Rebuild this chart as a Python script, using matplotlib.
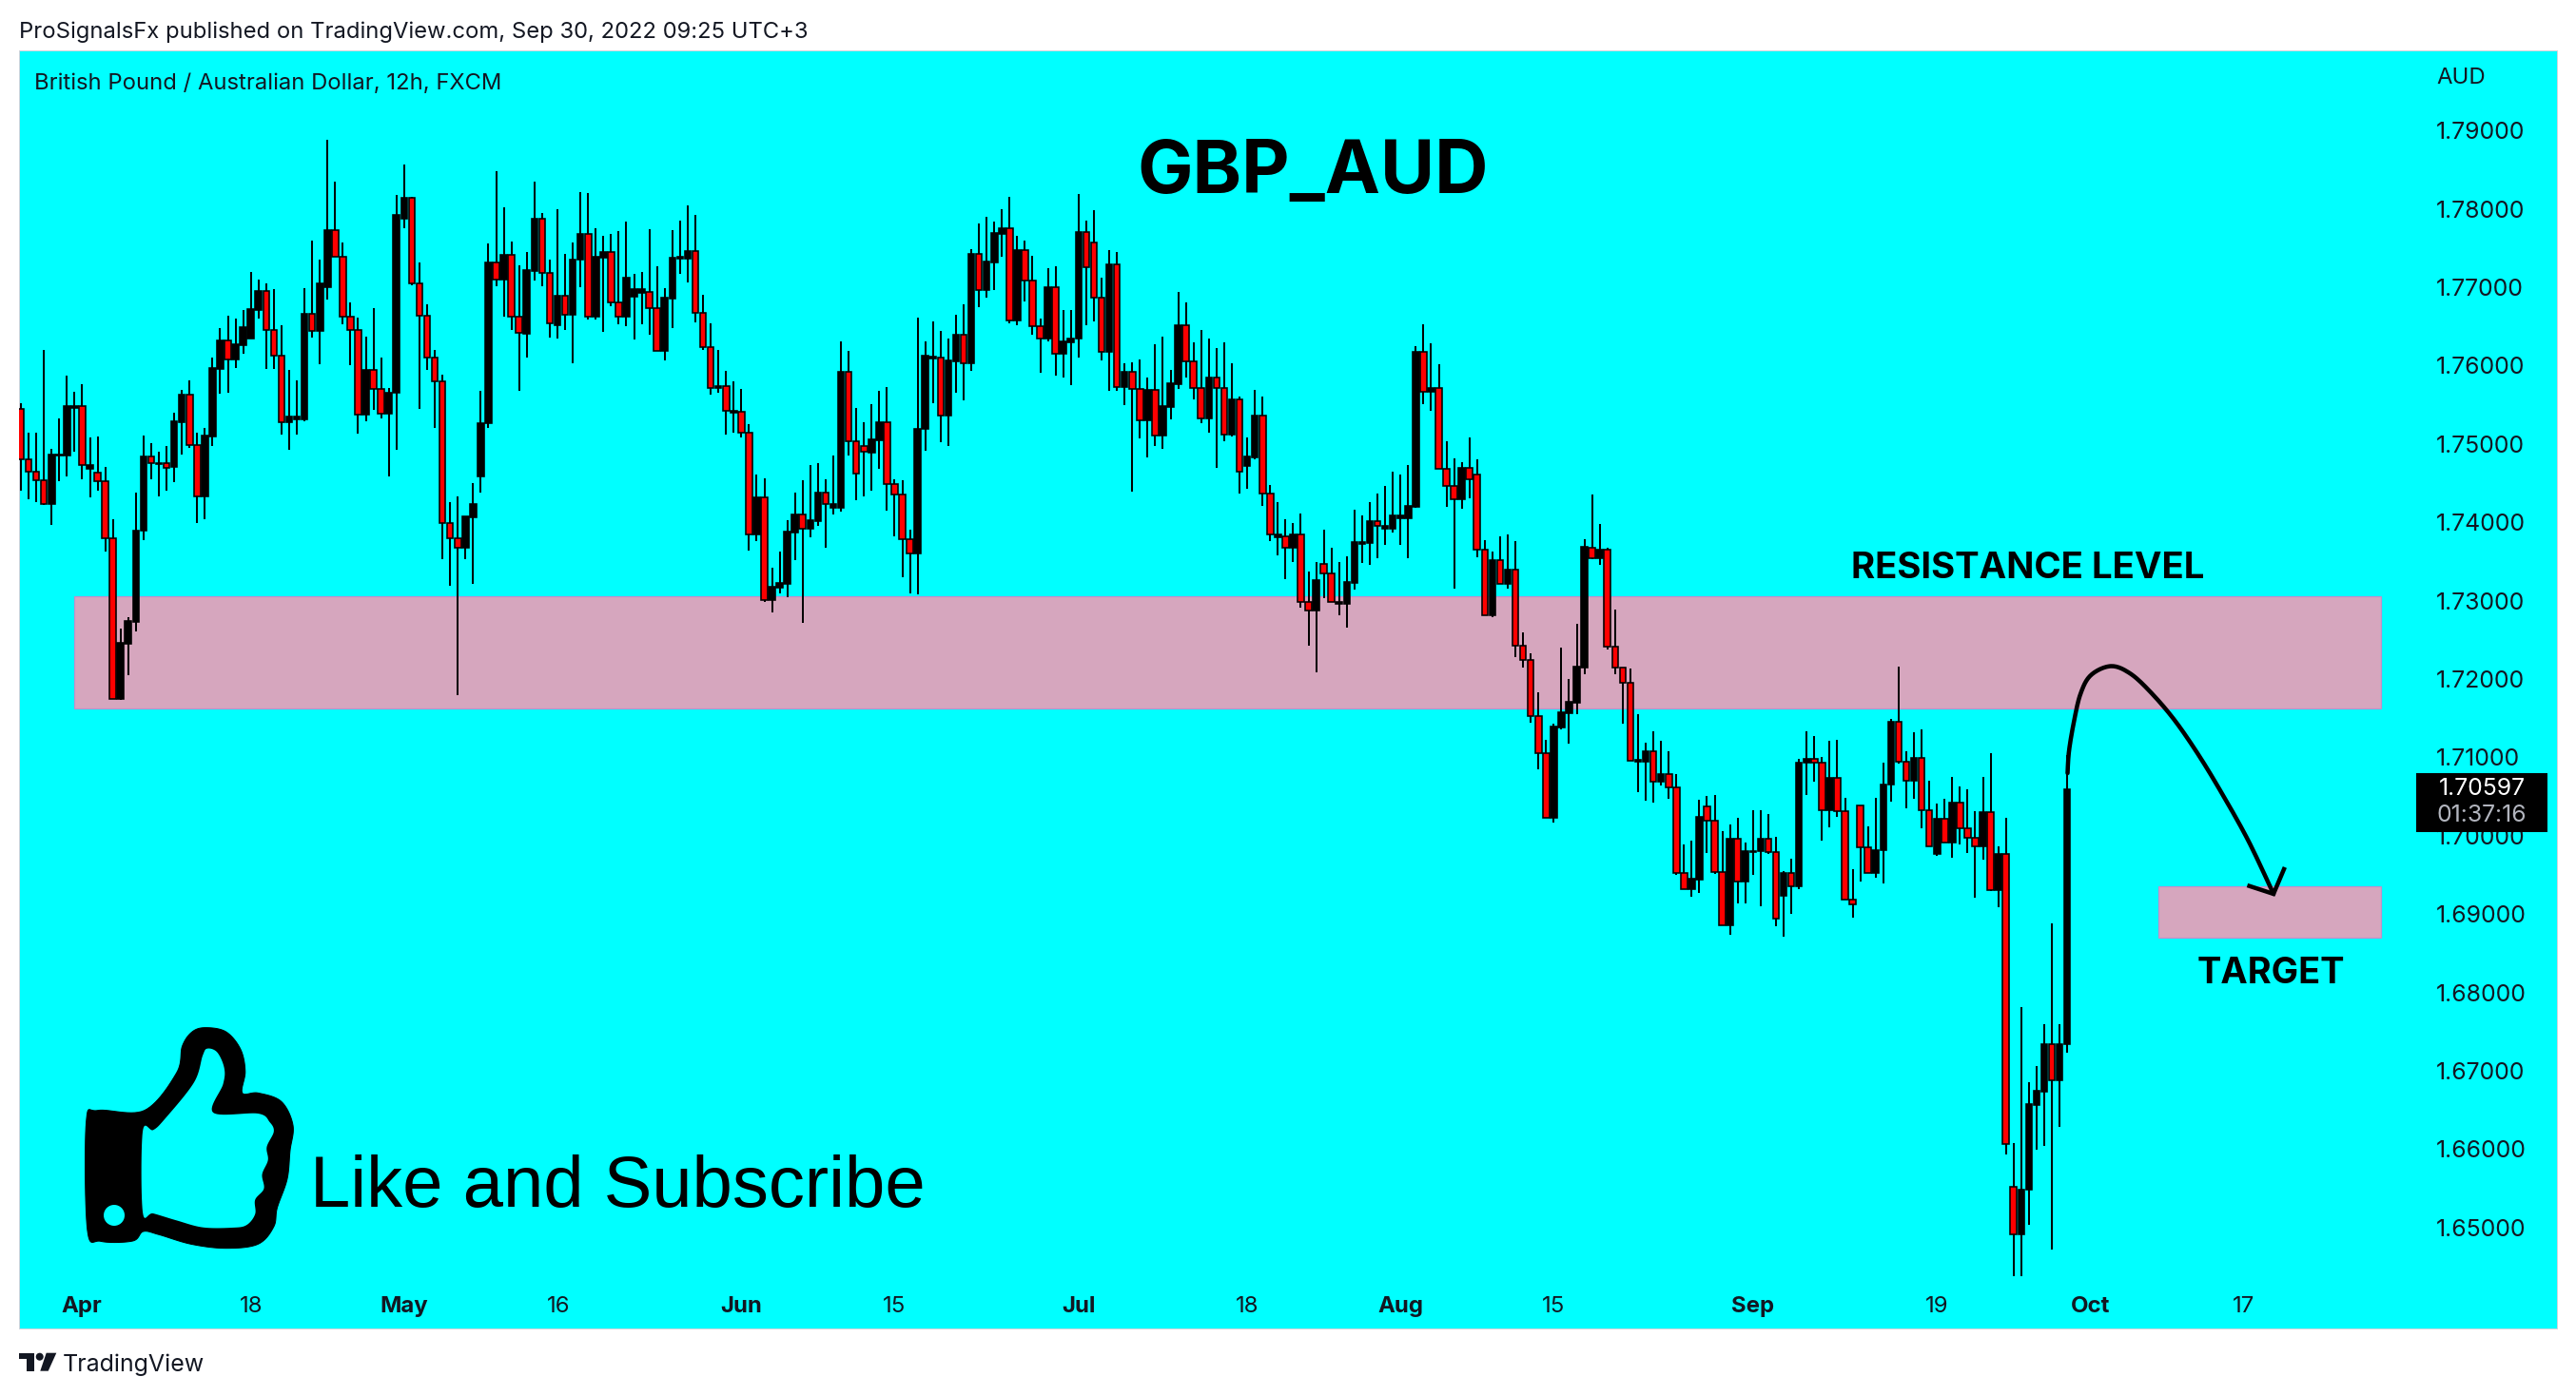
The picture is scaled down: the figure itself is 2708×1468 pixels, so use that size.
import numpy as np
import matplotlib
matplotlib.use("Agg")
import matplotlib.pyplot as plt
from matplotlib.patches import Rectangle, Polygon, Ellipse

W, H, DPI = 2708, 1468, 200
PT = 72 / DPI  # one pixel in points
plt.rcParams['font.family'] = ['Inter', 'DejaVu Sans']

opens = [
    1.7545,1.7480,1.7465,1.7454,1.7424,1.7485,1.7485,1.7546,1.7548,1.7468,
    1.7463,1.7452,1.7380,1.7175,1.7245,1.7273,1.7390,1.7484,1.7474,1.7475,
    1.7471,1.7528,1.7563,1.7499,1.7433,1.7510,1.7596,1.7632,1.7608,1.7626,
    1.7635,1.7671,1.7695,1.7645,1.7613,1.7528,1.7532,1.7532,1.7666,1.7644,
    1.7700,1.7773,1.7739,1.7663,1.7645,1.7537,1.7595,1.7570,1.7539,1.7565,
    1.7787,1.7814,1.7705,1.7664,1.7610,1.7580,1.7399,1.7380,1.7367,1.7407,
    1.7459,1.7526,1.7732,1.7710,1.7741,1.7663,1.7641,1.7721,1.7788,1.7718,
    1.7652,1.7689,1.7665,1.7735,1.7768,1.7662,1.7738,1.7745,1.7681,1.7663,
    1.7688,1.7693,1.7694,1.7674,1.7619,1.7686,1.7736,1.7737,1.7746,1.7667,
    1.7624,1.7571,1.7574,1.7540,1.7541,1.7514,1.7385,1.7432,1.7301,1.7317,
    1.7322,1.7387,1.7410,1.7392,1.7402,1.7438,1.7419,1.7419,1.7592,1.7503,
    1.7498,1.7489,1.7505,1.7528,1.7449,1.7435,1.7378,1.7360,1.7519,1.7609,
    1.7610,1.7536,1.7606,1.7639,1.7603,1.7742,1.7697,1.7732,1.7768,1.7775,
    1.7658,1.7748,1.7708,1.7650,1.7634,1.7700,1.7615,1.7630,1.7634,1.7771,
    1.7757,1.7687,1.7618,1.7729,1.7573,1.7592,1.7570,1.7530,1.7569,1.7511,
    1.7547,1.7576,1.7651,1.7605,1.7572,1.7533,1.7585,1.7571,1.7512,1.7557,
    1.7472,1.7483,1.7536,1.7437,1.7381,1.7382,1.7368,1.7384,1.7298,1.7287,
    1.7347,1.7335,1.7296,1.7296,1.7323,1.7373,1.7374,1.7401,1.7392,1.7392,
    1.7405,1.7405,1.7420,1.7617,1.7567,1.7572,1.7468,1.7447,1.7430,1.7470,
    1.7461,1.7365,1.7282,1.7352,1.7322,1.7340,1.7242,1.7224,1.7153,1.7106,
    1.7023,1.7138,1.7157,1.7170,1.7215,1.7368,1.7354,1.7365,1.7241,1.7215,
    1.7195,1.7095,1.7095,1.7108,1.7069,1.7079,1.7062,1.6953,1.6932,1.6944,
    1.7037,1.7019,1.6954,1.6886,1.6996,1.6942,1.6979,1.6980,1.6996,1.6979,
    1.6924,1.6952,1.6936,1.7093,1.7098,1.7093,1.7033,1.7074,1.7032,1.6918,
    1.7039,1.6985,1.6953,1.6982,1.7065,1.7145,1.7094,1.7070,1.7099,1.7033,
    1.6977,1.7022,1.6991,1.7042,1.7009,1.6997,1.6987,1.7030,1.6931,1.6977,
    1.6552,1.6491,1.6548,1.6657,1.6673,1.6734,1.6688,1.6734,
]
closes = [
    1.7480,1.7465,1.7454,1.7424,1.7487,1.7487,1.7548,1.7548,1.7473,1.7473,
    1.7452,1.7380,1.7175,1.7246,1.7274,1.7390,1.7484,1.7475,1.7476,1.7470,
    1.7529,1.7563,1.7499,1.7433,1.7511,1.7597,1.7632,1.7608,1.7627,1.7649,
    1.7672,1.7695,1.7645,1.7613,1.7528,1.7535,1.7535,1.7666,1.7644,1.7705,
    1.7773,1.7739,1.7663,1.7645,1.7537,1.7595,1.7570,1.7539,1.7565,1.7792,
    1.7814,1.7705,1.7664,1.7610,1.7580,1.7399,1.7380,1.7367,1.7408,1.7424,
    1.7527,1.7732,1.7710,1.7741,1.7663,1.7642,1.7722,1.7788,1.7718,1.7654,
    1.7689,1.7665,1.7735,1.7768,1.7662,1.7739,1.7745,1.7681,1.7663,1.7712,
    1.7698,1.7698,1.7674,1.7619,1.7687,1.7738,1.7739,1.7746,1.7667,1.7624,
    1.7571,1.7574,1.7542,1.7542,1.7514,1.7385,1.7432,1.7301,1.7318,1.7323,
    1.7388,1.7410,1.7392,1.7403,1.7438,1.7423,1.7423,1.7592,1.7503,1.7462,
    1.7490,1.7506,1.7528,1.7449,1.7435,1.7378,1.7360,1.7519,1.7613,1.7612,
    1.7536,1.7607,1.7639,1.7603,1.7742,1.7697,1.7733,1.7769,1.7775,1.7658,
    1.7748,1.7708,1.7650,1.7634,1.7700,1.7615,1.7631,1.7635,1.7771,1.7725,
    1.7687,1.7618,1.7729,1.7573,1.7592,1.7570,1.7530,1.7569,1.7511,1.7548,
    1.7578,1.7651,1.7605,1.7572,1.7533,1.7585,1.7571,1.7512,1.7557,1.7465,
    1.7484,1.7536,1.7437,1.7384,1.7384,1.7368,1.7384,1.7298,1.7287,1.7326,
    1.7335,1.7299,1.7299,1.7324,1.7375,1.7375,1.7402,1.7395,1.7396,1.7409,
    1.7409,1.7421,1.7617,1.7567,1.7572,1.7468,1.7447,1.7430,1.7470,1.7455,
    1.7365,1.7282,1.7352,1.7322,1.7340,1.7242,1.7224,1.7153,1.7106,1.7023,
    1.7139,1.7158,1.7171,1.7216,1.7369,1.7354,1.7365,1.7241,1.7215,1.7195,
    1.7096,1.7097,1.7108,1.7069,1.7079,1.7062,1.6953,1.6932,1.6945,1.7024,
    1.7019,1.6954,1.6886,1.6996,1.6942,1.6981,1.6981,1.6996,1.6979,1.6894,
    1.6952,1.6936,1.7093,1.7098,1.7093,1.7033,1.7074,1.7031,1.6918,1.6913,
    1.6985,1.6953,1.6982,1.7065,1.7145,1.7094,1.7070,1.7099,1.7033,1.6986,
    1.7022,1.6991,1.7042,1.7009,1.6997,1.6987,1.7030,1.6931,1.6977,1.6607,
    1.6491,1.6548,1.6658,1.6674,1.6734,1.6688,1.6734,1.7059,
]
highs = [
    1.7552,1.7514,1.7514,1.7620,1.7494,1.7533,1.7587,1.7567,1.7576,1.7508,
    1.7509,1.7471,1.7404,1.7265,1.7279,1.7438,1.7511,1.7501,1.7490,1.7497,
    1.7540,1.7569,1.7581,1.7514,1.7521,1.7610,1.7648,1.7664,1.7660,1.7671,
    1.7719,1.7710,1.7705,1.7698,1.7651,1.7594,1.7581,1.7699,1.7760,1.7735,
    1.7888,1.7835,1.7757,1.7681,1.7661,1.7637,1.7673,1.7610,1.7571,1.7818,
    1.7857,1.7815,1.7732,1.7678,1.7620,1.7589,1.7426,1.7433,1.7408,1.7450,
    1.7568,1.7756,1.7848,1.7802,1.7758,1.7728,1.7745,1.7835,1.7795,1.7735,
    1.7800,1.7743,1.7757,1.7822,1.7820,1.7775,1.7766,1.7768,1.7772,1.7784,
    1.7717,1.7720,1.7774,1.7727,1.7699,1.7773,1.7785,1.7805,1.7792,1.7690,
    1.7654,1.7620,1.7593,1.7580,1.7570,1.7525,1.7461,1.7456,1.7342,1.7363,
    1.7403,1.7438,1.7454,1.7473,1.7476,1.7455,1.7485,1.7631,1.7619,1.7546,
    1.7528,1.7551,1.7568,1.7573,1.7455,1.7454,1.7391,1.7661,1.7631,1.7657,
    1.7644,1.7635,1.7665,1.7678,1.7749,1.7781,1.7790,1.7784,1.7800,1.7815,
    1.7766,1.7760,1.7740,1.7660,1.7724,1.7727,1.7671,1.7671,1.7819,1.7785,
    1.7798,1.7712,1.7748,1.7745,1.7603,1.7604,1.7608,1.7585,1.7627,1.7637,
    1.7595,1.7694,1.7681,1.7630,1.7645,1.7635,1.7622,1.7630,1.7603,1.7560,
    1.7508,1.7569,1.7560,1.7448,1.7426,1.7404,1.7399,1.7411,1.7337,1.7349,
    1.7391,1.7368,1.7349,1.7357,1.7416,1.7409,1.7426,1.7437,1.7446,1.7465,
    1.7461,1.7473,1.7625,1.7653,1.7629,1.7602,1.7503,1.7482,1.7477,1.7508,
    1.7481,1.7377,1.7363,1.7382,1.7384,1.7376,1.7260,1.7233,1.7183,1.7122,
    1.7143,1.7240,1.7200,1.7270,1.7379,1.7435,1.7398,1.7367,1.7289,1.7215,
    1.7213,1.7155,1.7119,1.7133,1.7121,1.7108,1.7079,1.6989,1.6994,1.7046,
    1.7051,1.7052,1.7006,1.7015,1.7023,1.6991,1.7033,1.7033,1.7028,1.6999,
    1.6955,1.6971,1.7098,1.7133,1.7127,1.7101,1.7121,1.7122,1.7048,1.6957,
    1.7039,1.7012,1.7048,1.7093,1.7149,1.7216,1.7108,1.7132,1.7136,1.7070,
    1.7041,1.7047,1.7075,1.7063,1.7059,1.7032,1.7075,1.7105,1.6986,1.7023,
    1.6608,1.6781,1.6685,1.6706,1.6760,1.6888,1.6759,1.7103,
]
lows = [
    1.7441,1.7430,1.7426,1.7422,1.7397,1.7452,1.7459,1.7490,1.7455,1.7432,
    1.7441,1.7363,1.7175,1.7174,1.7205,1.7261,1.7377,1.7455,1.7433,1.7441,
    1.7451,1.7487,1.7495,1.7399,1.7404,1.7497,1.7564,1.7565,1.7597,1.7615,
    1.7635,1.7660,1.7596,1.7596,1.7512,1.7492,1.7512,1.7529,1.7636,1.7602,
    1.7684,1.7739,1.7653,1.7601,1.7513,1.7529,1.7544,1.7533,1.7459,1.7493,
    1.7775,1.7703,1.7545,1.7595,1.7521,1.7353,1.7319,1.7179,1.7353,1.7322,
    1.7438,1.7521,1.7701,1.7662,1.7646,1.7568,1.7610,1.7709,1.7701,1.7636,
    1.7635,1.7646,1.7603,1.7700,1.7659,1.7659,1.7643,1.7676,1.7653,1.7650,
    1.7633,1.7653,1.7640,1.7619,1.7607,1.7648,1.7717,1.7706,1.7655,1.7620,
    1.7563,1.7565,1.7512,1.7514,1.7508,1.7364,1.7376,1.7298,1.7285,1.7309,
    1.7305,1.7352,1.7272,1.7381,1.7396,1.7368,1.7410,1.7414,1.7485,1.7428,
    1.7433,1.7441,1.7468,1.7415,1.7382,1.7330,1.7309,1.7308,1.7491,1.7552,
    1.7502,1.7498,1.7566,1.7556,1.7593,1.7675,1.7687,1.7696,1.7739,1.7654,
    1.7651,1.7682,1.7640,1.7591,1.7631,1.7587,1.7585,1.7575,1.7610,1.7651,
    1.7657,1.7607,1.7568,1.7568,1.7550,1.7439,1.7507,1.7483,1.7498,1.7494,
    1.7531,1.7570,1.7585,1.7557,1.7527,1.7514,1.7469,1.7504,1.7509,1.7437,
    1.7443,1.7481,1.7421,1.7376,1.7358,1.7328,1.7349,1.7291,1.7243,1.7208,
    1.7303,1.7299,1.7281,1.7266,1.7314,1.7348,1.7346,1.7354,1.7371,1.7387,
    1.7371,1.7354,1.7419,1.7551,1.7542,1.7468,1.7420,1.7316,1.7417,1.7431,
    1.7356,1.7282,1.7279,1.7322,1.7315,1.7228,1.7215,1.7144,1.7085,1.7023,
    1.7017,1.7136,1.7118,1.7155,1.7206,1.7353,1.7346,1.7238,1.7206,1.7143,
    1.7096,1.7056,1.7045,1.7042,1.7064,1.7047,1.6950,1.6932,1.6922,1.6927,
    1.6978,1.6951,1.6886,1.6874,1.6914,1.6914,1.6950,1.6910,1.6977,1.6885,
    1.6871,1.6900,1.6932,1.7052,1.7069,1.6994,1.7011,1.7024,1.6918,1.6896,
    1.6942,1.6953,1.6946,1.6939,1.7044,1.7092,1.7035,1.7047,1.7009,1.6986,
    1.6974,1.6991,1.6972,1.6989,1.6978,1.6921,1.6969,1.6930,1.6909,1.6593,
    1.6438,1.6438,1.6503,1.6599,1.6604,1.6472,1.6629,1.6723,
]

price_ticks = [1.65, 1.66, 1.67, 1.68, 1.69, 1.70, 1.71, 1.72, 1.73, 1.74,
               1.75, 1.76, 1.77, 1.78, 1.79]
time_bars = [7.9, 30, 50, 70.1, 94, 114, 138, 160, 180, 200, 226, 250, 270, 290]
time_labels = ['Apr', '18', 'May', '16', 'Jun', '15', 'Jul', '18', 'Aug', '15',
               'Sep', '19', 'Oct', '17']
month_labels = {'Apr', 'May', 'Jun', 'Jul', 'Aug', 'Sep', 'Oct'}
resistance_zone = (1.7162, 1.7306)
target_zone = (1.6870, 1.6936)
last_price = '1.70597'
countdown = '01:37:16'

CYAN = '#00FFFF'
INK = '#131722'
ZONE = '#D6A6BE'
ZONE_EDGE = '#C08FCB'


def smooth(points, closed=False, n=14):
    """Catmull-Rom through hand-drawn annotation points."""
    p = np.asarray(points, float)
    if closed:
        p = np.vstack([p[-1], p, p[0], p[1]])
    else:
        p = np.vstack([p[0], p, p[-1]])
    out = []
    for i in range(1, len(p) - 2):
        for t in np.linspace(0, 1, n, endpoint=False):
            out.append(0.5 * (2 * p[i] + (p[i + 1] - p[i - 1]) * t
                       + (2 * p[i - 1] - 5 * p[i] + 4 * p[i + 1] - p[i + 2]) * t ** 2
                       + (3 * p[i] - p[i - 1] - 3 * p[i + 1] + p[i + 2]) * t ** 3))
    if not closed:
        out.append(p[-1])
    return np.array(out)


fig = plt.figure(figsize=(W / DPI, H / DPI), dpi=DPI, facecolor='white')
left, right, top, bottom = 20, 2688, 53, 1397
ax = fig.add_axes([left / W, 1 - bottom / H, (right - left) / W, (bottom - top) / H])
ax.set_facecolor(CYAN)
ax.set_xlim(-0.248, 330.9)
ax.set_ylim(1.63712, 1.80023)
for s in ax.spines.values():
    s.set_color('#D1D4DC')
    s.set_linewidth(1 * PT)

o, c, h, l = map(np.array, (opens, closes, highs, lows))
x = np.arange(len(o))
down = o > c

# zones
for (y0, y1), x0 in ((resistance_zone, 6.9), (target_zone, 278.9)):
    ax.add_patch(Rectangle((x0, y0), 308 - x0, y1 - y0, facecolor=ZONE,
                           edgecolor=ZONE_EDGE, linewidth=1.2 * PT, zorder=1))

# candles
ax.vlines(x, l, h, color='black', linewidth=2 * PT, zorder=2)
ax.bar(x, np.abs(c - o), bottom=np.minimum(o, c), width=0.82,
       color=np.where(down, '#FF0000', '#000000'), edgecolor='black',
       linewidth=1.6 * PT, zorder=3)

# axis labels inside the pane
ax.yaxis.tick_right()
ax.set_yticks(price_ticks, [f'{p:.5f}' for p in price_ticks])
ax.tick_params(axis='y', length=0, pad=-127 * PT, labelsize=24.8 * PT, labelcolor=INK)
ax.set_xticks(time_bars, time_labels)
ax.tick_params(axis='x', length=0, pad=-34 * PT, labelsize=24 * PT, labelcolor=INK)
for lab in ax.get_xticklabels():
    if lab.get_text() in month_labels:
        lab.set_fontweight('bold')

# overlay in reference pixels for the drawings and captions
ov = fig.add_axes([0, 0, 1, 1], zorder=5)
ov.set_xlim(0, W)
ov.set_ylim(H, 0)
ov.axis('off')
ov.patch.set_alpha(0)


def T(px, py, s, size, weight='normal', color=INK, ha='left', family=None):
    kw = {'family': family} if family else {}
    ov.text(px, py, s, fontsize=size * PT, fontweight=weight, color=color, ha=ha,
            va='center_baseline', **kw)


T(20, 31, 'ProSignalsFx published on TradingView.com, Sep 30, 2022 09:25 UTC+3', 23.8)
T(36, 86, 'British Pound / Australian Dollar, 12h, FXCM', 23.8)
T(2561, 80, 'AUD', 24)
T(1195, 174, 'GBP_AUD', 78, 'bold', 'black')
T(1946, 594, 'RESISTANCE LEVEL', 38.3, 'bold', 'black')
T(2310, 1020, 'TARGET', 38, 'bold', 'black')
T(326, 1241, 'Like and Subscribe', 76, color='black', family='Liberation Sans')
T(66, 1433, 'TradingView', 25)

# last price tag
ov.add_patch(Rectangle((2540, 813), 138, 62, facecolor='black', edgecolor='none', zorder=6))
ov.text(2609, 830, last_price, fontsize=24.8 * PT, color='white', ha='center', va='center', zorder=7)
ov.text(2609, 858, countdown, fontsize=24.8 * PT, color='#B2B5BE', ha='center', va='center', zorder=7)

# hand drawn arrow
curve = smooth([(2173.5, 813), (2175, 790), (2180, 760), (2187, 730), (2198, 710),
                (2219, 700.5), (2239, 708), (2260, 727), (2285, 756), (2310, 792),
                (2335, 833), (2363.5, 884), (2390, 940)])
ov.plot(curve[:, 0], curve[:, 1], color='black', lw=4.5 * PT, solid_capstyle='round', zorder=6)
ov.plot([2364.6, 2390, 2401], [931.7, 940, 914], color='black', lw=4.5 * PT,
        solid_joinstyle='miter', zorder=6)

# thumbs up logo (hand traced)
def tz(pts):
    a = np.asarray(pts, float)
    return np.c_[60 + a[:, 0] / 1.633, 1060 + a[:, 1] / 3]


outer = [(150, 323), (205, 205), (215, 120), (232, 75), (255, 62), (290, 75), (315, 130),
         (323, 200), (318, 268), (345, 268), (385, 295), (405, 370), (400, 450), (395, 540),
         (378, 630), (372, 690), (345, 745), (290, 758), (230, 745), (175, 715), (148, 705),
         (130, 735), (75, 736), (52, 700), (50, 360), (70, 323)]
inner = [(147, 390), (165, 385), (185, 350), (235, 235), (250, 150), (258, 128), (275, 140),
         (287, 190), (285, 240), (268, 330), (345, 333), (365, 360), (372, 390), (360, 438),
         (362, 480), (352, 525), (355, 570), (340, 605), (340, 650), (325, 685), (300, 693),
         (250, 692), (205, 670), (165, 648), (147, 643)]
ov.add_patch(Polygon(smooth(tz(outer), closed=True), closed=True, facecolor='black',
                     edgecolor='black', lw=1 * PT, zorder=6))
ov.add_patch(Polygon(smooth(tz(inner), closed=True), closed=True, facecolor=CYAN,
                     edgecolor='none', zorder=7))
ov.add_patch(Ellipse(tz([(98, 654)])[0], 22, 22, facecolor=CYAN, edgecolor='none', zorder=7))

# TradingView mark
ov.add_patch(Polygon([(20, 1422.7), (36, 1422.7), (36, 1441.7), (28, 1441.7), (28, 1429.3), (20, 1429.3)],
                     closed=True, facecolor=INK, edgecolor='none'))
ov.add_patch(Ellipse((41.7, 1426.7), 8, 8, facecolor=INK, edgecolor='none'))
ov.add_patch(Polygon([(48.7, 1422.7), (59.3, 1422.7), (50.7, 1441.7), (42.3, 1441.7)], closed=True,
                     facecolor=INK, edgecolor='none'))

fig.savefig('out.png', dpi=DPI, facecolor='white')
